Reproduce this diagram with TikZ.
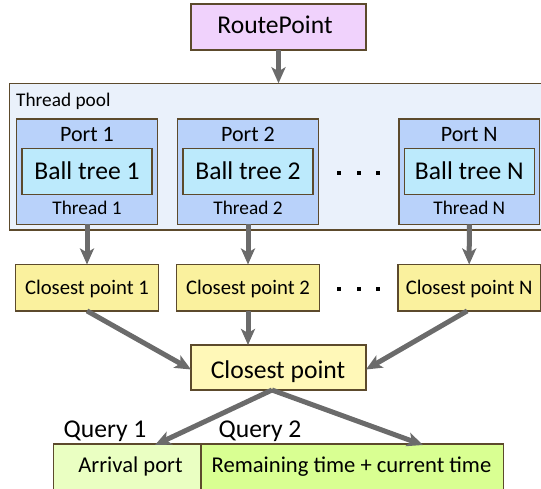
\documentclass[tikz,border=0pt]{standalone}
\usepackage{fontspec}
\setmainfont{Carlito}
\usetikzlibrary{arrows.meta}
\definecolor{bordc}{HTML}{5C4A2C}
\definecolor{arrc}{HTML}{6B6B6B}
\definecolor{rpfill}{HTML}{F0D2FC}
\definecolor{poolfill}{HTML}{EAF1FB}
\definecolor{portfill}{HTML}{B9D2FA}
\definecolor{btfill}{HTML}{BCEAFC}
\definecolor{cpfill}{HTML}{FAF19E}
\definecolor{mainfill}{HTML}{FFF8B8}
\definecolor{q1fill}{HTML}{EAFFC2}
\definecolor{q2fill}{HTML}{D9FF92}
\tikzset{
  box/.style={draw=bordc, line width=1.3pt, rectangle, inner sep=0pt, outer sep=0pt},
  txt/.style={inner sep=0pt, outer sep=0pt, anchor=base},
  big/.style={txt, font=\fontsize{25.6}{28}\selectfont},
  mid/.style={txt, font=\fontsize{22}{24}\selectfont},
  small/.style={txt, font=\fontsize{19.3}{21}\selectfont},
  cptxt/.style={txt, font=\fontsize{20.7}{23}\selectfont},
  qtxt/.style={txt, font=\fontsize{22.6}{25}\selectfont},
  arr/.style={draw=arrc, line width=5pt, -{Stealth[length=16pt, width=14pt, inset=4pt]}},
  dotsq/.style={fill=black, minimum size=4pt, inner sep=0pt, rectangle}
}
\begin{document}
\begin{tikzpicture}[x=1pt,y=-1pt]
\clip (0,0) rectangle (541,489);
% RoutePoint
\node[box, fill=rpfill, minimum width=175pt, minimum height=46pt] (rp) at (278.5,27) {};
\node[big] (rpt) at (275,33.3) {RoutePoint};
% Thread pool
\node[box, fill=poolfill, minimum width=533pt, minimum height=146.7pt] (pool) at (275.7,156.65) {};
\node[small, anchor=base west] (poolt) at (16.2,106.7) {Thread pool};
% Ports
\foreach \n/\cx/\lab in {p1/87/1, p2/248/2, pN/469.3/N}{
  \node[box, fill=portfill, minimum width=140.6pt, minimum height=105.3pt] (\n) at (\cx,171.65) {};
  \node[box, fill=btfill, minimum width=130pt, minimum height=46pt] (\n bt) at (\cx,171.3) {};
  \node[mid] (\n t) at (\cx,141.7) {Port \lab};
  \node[big] (\n btt) at (\cx,180) {Ball tree \lab};
  \node[small] (\n th) at (\cx,215) {Thread \lab};
}
% dots
\node[dotsq] (d1) at (339.3,173.3) {};
\node[dotsq] (d2) at (358.8,173.3) {};
\node[dotsq] (d3) at (378.3,173.3) {};
% Closest points
\foreach \n/\cx/\lab in {c1/87/1, c2/248/2, cN/469.2/N}{
  \node[box, fill=cpfill, minimum width=142.6pt, minimum height=46.4pt] (\n) at (\cx,287.7) {};
  \node[cptxt] (\n t) at (\cx,294.5) {Closest point \lab};
}
\node[dotsq] (e1) at (339.3,289.3) {};
\node[dotsq] (e2) at (358.8,289.3) {};
\node[dotsq] (e3) at (378.3,289.3) {};
% Main closest point
\node[box, fill=mainfill, minimum width=175pt, minimum height=45pt] (cm) at (278.5,367.5) {};
\node[big] (cmt) at (278,378.3) {Closest point};
% Bottom
\node[box, fill=q1fill, anchor=north west, minimum width=147.7pt, minimum height=50pt] (qa) at (53.3,444) {};
\node[box, fill=q2fill, anchor=north west, minimum width=302.3pt, minimum height=50pt] (qb) at (201,444) {};
\node[qtxt] (qat) at (130.5,472.7) {Arrival port};
\node[qtxt] (qbt) at (351.5,472.7) {Remaining time + current time};
\node[big] (q1) at (105,437.7) {Query 1};
\node[big] (q2) at (260,437.7) {Query 2};
% Arrows
\draw[arr] (rp.south) -- (rp.south |- pool.north);
\foreach \n/\c in {p1/c1, p2/c2, pN/cN}{
  \draw[arr] (\n.south) -- (\c.north);
}
\draw[arr] (c1.south) -- ([yshift=-2pt]cm.west);
\draw[arr] ([xshift=-2pt]cN.south) -- ([yshift=-2pt]cm.east);
\draw[arr] (c2.south) -- (c2.south |- cm.north);
\coordinate (cms) at (272,390);
\coordinate (qe1) at (155,445);
\coordinate (qe2) at (423,445);
\draw[arr] (cms) -- (qe1);
\draw[arr] (cms) -- (qe2);
\end{tikzpicture}
\end{document}
